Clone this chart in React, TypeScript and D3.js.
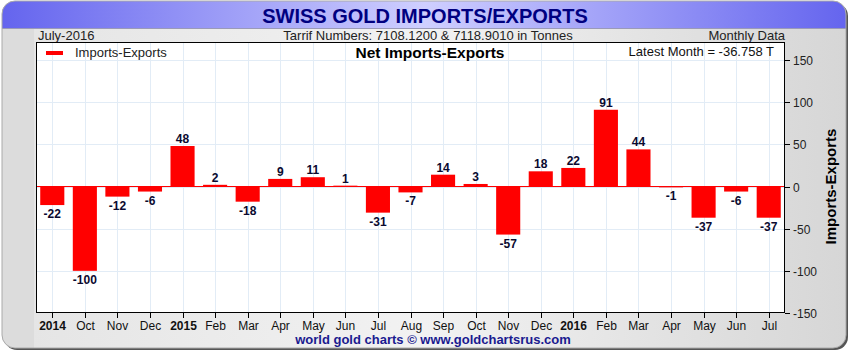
import React from "react";
import { scaleBand, scaleLinear } from "d3";

// monthly net flows, Sep 2014 .. Jul 2016 (tonnes)
const months = [
  "2014", "Oct", "Nov", "Dec", "2015", "Feb", "Mar", "Apr", "May", "Jun", "Jul", "Aug",
  "Sep", "Oct", "Nov", "Dec", "2016", "Feb", "Mar", "Apr", "May", "Jun", "Jul",
];
const netValues = [
  -22, -100, -12, -6, 48, 2, -18, 9, 11, 1, -31, -7,
  14, 3, -57, 18, 22, 91, 44, -1, -37, -6, -37,
];
const yTicks = [150, 100, 50, 0, -50, -100, -150];

const W = 849;
const H = 351;
// plot box
const L = 36;
const R = 785;
const T = 42;
const B = 313;

const font = "Arial, 'Liberation Sans', sans-serif";

export default function App() {
  const keys = months.map((_, i) => String(i));
  const x = scaleBand<string>().domain(keys).range([L, R]).paddingInner(0.26).paddingOuter(0.13);
  const y = scaleLinear().domain([-150, 150]).range([B, 60]);
  const step = (R - L) / months.length;
  const center = (i: number) => L + step * (i + 0.5);

  return (
    <svg width={W} height={H} style={{ display: "block", position: "absolute", left: 0, top: 0 }} fontFamily={font}>
      <defs>
        <linearGradient id="titleGrad" x1="0" x2="1" y1="0" y2="0">
          <stop offset="0" stopColor="#6464ee" />
          <stop offset="0.5" stopColor="#cfcfff" />
          <stop offset="1" stopColor="#6464ee" />
        </linearGradient>
        <linearGradient id="bodyGrad" x1="0" x2="1" y1="0" y2="0">
          <stop offset="0" stopColor="#e4e4e4" />
          <stop offset="0.5" stopColor="#f2f2f2" />
          <stop offset="1" stopColor="#d6d6d6" />
        </linearGradient>
        <clipPath id="frameClip">
          <rect x={2} y={1} width={W - 5} height={H - 4} rx={13} />
        </clipPath>
      </defs>

      {/* outer frame with shadow */}
      <rect x={4} y={3} width={W - 5} height={H - 4} rx={13} fill="#555" />
      <g clipPath="url(#frameClip)">
        <rect x={0} y={0} width={W} height={H} fill="url(#bodyGrad)" />
        <rect x={0} y={0} width={L - 2} height={H} fill="#dcdcdc" />
        <rect x={0} y={0} width={W} height={28} fill="url(#titleGrad)" />
        <line x1={0} x2={W} y1={28.5} y2={28.5} stroke="#9a9ab8" />
      </g>
      <rect x={2} y={1} width={W - 5} height={H - 4} rx={13} fill="none" stroke="#aaa" strokeWidth={1} />

      <text x={425} y={23} textAnchor="middle" fontSize={20} fontWeight="bold" fill="#000080">
        SWISS GOLD IMPORTS/EXPORTS
      </text>

      <text x={38} y={40} fontSize={13} fill="#222">July-2016</text>
      <text x={428} y={40} textAnchor="middle" fontSize={13} fill="#222">
        Tarrif Numbers: 7108.1200 &amp; 7118.9010 in Tonnes
      </text>
      <text x={785} y={40} textAnchor="end" fontSize={13} fill="#222">Monthly Data</text>

      {/* plot */}
      <rect x={L} y={T} width={R - L} height={B - T} fill="#fff" />
      {yTicks.slice(0, -1).map((t) => (
        <line key={t} x1={L} x2={R} y1={Math.round(y(t)) + 0.5} y2={Math.round(y(t)) + 0.5} stroke="#e2ecf6" />
      ))}
      {months.map((_, i) => (
        <line key={i} x1={Math.round(center(i)) + 0.5} x2={Math.round(center(i)) + 0.5} y1={T} y2={B} stroke="#e2ecf6" />
      ))}

      {netValues.map((v, i) => (
        <rect
          key={i}
          x={x(String(i))}
          width={x.bandwidth()}
          y={y(Math.max(0, v))}
          height={Math.abs(y(v) - y(0))}
          fill="#ff0000"
        />
      ))}
      <line x1={L} x2={R} y1={y(0)} y2={y(0)} stroke="#ff0000" strokeWidth={1.2} />

      {netValues.map((v, i) => (
        <text
          key={i}
          x={center(i)}
          y={v >= 0 ? y(v) - 3 : y(v) + 13}
          textAnchor="middle"
          fontSize={12}
          fontWeight="bold"
          fill="#0a0a30"
        >
          {v}
        </text>
      ))}

      <rect x={L + 0.5} y={T + 0.5} width={R - L - 1} height={B - T - 1} fill="none" stroke="#000" />

      {/* legend & captions */}
      <line x1={46} x2={63} y1={53} y2={53} stroke="#ff0000" strokeWidth={4} />
      <text x={75} y={57} fontSize={13} fill="#222">Imports-Exports</text>
      <text x={430} y={58} textAnchor="middle" fontSize={15.5} fontWeight="bold" fill="#000">
        Net Imports-Exports
      </text>
      <text x={774} y={56} textAnchor="end" fontSize={13} fill="#111">Latest Month = -36.758 T</text>

      {/* right axis */}
      {yTicks.map((t) => (
        <g key={t} transform={`translate(${R},${Math.round(y(t)) + 0.5})`}>
          <line x1={0} x2={5} stroke="#000" />
          <text x={8} y={4} fontSize={12} fill="#222">{t}</text>
        </g>
      ))}
      <text
        transform={`translate(836,${y(0)}) rotate(-90)`}
        textAnchor="middle"
        fontSize={15}
        fontWeight="bold"
        fill="#000"
      >
        Imports-Exports
      </text>

      {/* bottom axis */}
      {months.map((m, i) => (
        <g key={i} transform={`translate(${Math.round(center(i)) + 0.5},${B})`}>
          <line y1={0} y2={5} stroke="#000" />
          <text
            y={17}
            textAnchor="middle"
            fontSize={12}
            fontWeight={/^\d{4}$/.test(m) ? "bold" : "normal"}
            fill="#111"
          >
            {m}
          </text>
        </g>
      ))}

      <text x={433} y={344} textAnchor="middle" fontSize={13} fontWeight="bold" fill="#1a1a90">
        world gold charts © www.goldchartsrus.com
      </text>
    </svg>
  );
}
